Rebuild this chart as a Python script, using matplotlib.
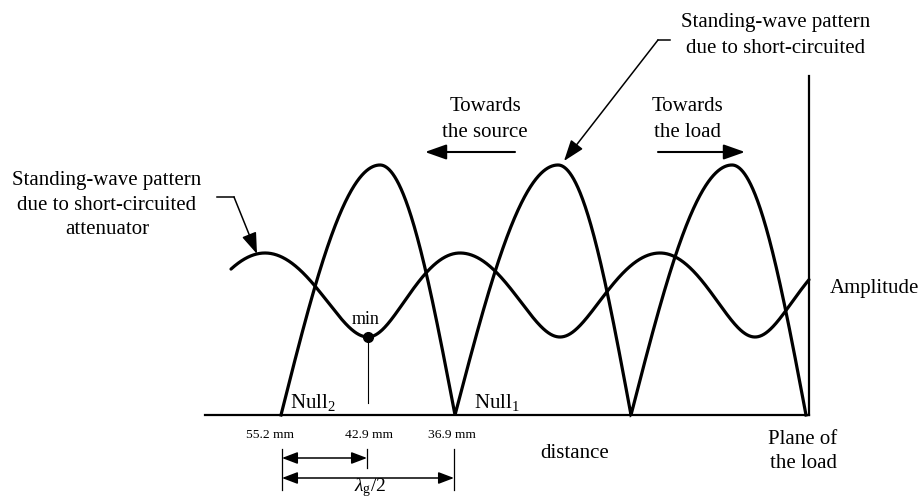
import numpy as np
import matplotlib
matplotlib.use("Agg")
import matplotlib.pyplot as plt

# Positions along the line (drawing units, baseline at amplitude 0)
null_x = [281, 455, 631, 806]          # nulls of the short-circuit pattern
peak_x = [380, 558, 732]               # maxima of the short-circuit pattern
peak_amp = 250                         # maximum amplitude, short circuit

att_ext_x = [265, 368, 460, 560, 660, 755]   # max/min positions, attenuator pattern
att_max = 162
att_min = 78
att_span = [231, 809]

min_x = 368
mm_x = [270, 369, 452]
mm_labels = ["55.2 mm", "42.9 mm", "36.9 mm"]
dim_x = [282, 367, 454]

plt.rcParams["font.family"] = ["Liberation Serif", "DejaVu Serif"]
plt.rcParams["mathtext.fontset"] = "custom"
plt.rcParams["mathtext.rm"] = "Liberation Serif"
plt.rcParams["mathtext.it"] = "Liberation Serif:italic"

W, H = 922, 499
BASE = 415  # baseline row measured from the top


def Y(row):
    return BASE - row


fig = plt.figure(figsize=(W / 100, H / 100), dpi=100)
ax = fig.add_axes([0, 0, 1, 1])
ax.set_xlim(0, W)
ax.set_ylim(BASE - H, BASE)
ax.axis("off")

# Short-circuit pattern: |sin| arches between nulls
nodes = []
for i, n in enumerate(null_x):
    nodes.append(n)
    if i < len(peak_x):
        nodes.append(peak_x[i])
phases = np.arange(len(nodes)) * np.pi / 2
xs = np.linspace(null_x[0], null_x[-1], 3000)
ph = np.interp(xs, nodes, phases)
ys = peak_amp * np.abs(np.sin(ph))
ax.plot(xs, ys, color="black", lw=2.3, solid_joinstyle="miter", zorder=3)

# Attenuator pattern: |1 + G e^{j theta}| with theta = 0 at maxima, pi at minima
G = (att_max - att_min) / (att_max + att_min)
ext = np.array(att_ext_x, dtype=float)
ph_ext = np.arange(len(ext)) * np.pi
x0 = att_span[0]
x1 = att_span[1]
p0 = ph_ext[0] - np.pi * (ext[0] - x0) / (ext[1] - ext[0])
p1 = ph_ext[-1] + np.pi * (x1 - ext[-1]) / (ext[-1] - ext[-2])
xa = np.linspace(x0, x1, 2000)
pa = np.interp(xa, np.r_[x0, ext, x1], np.r_[p0, ph_ext, p1])
ya = att_max * np.abs(1 + G * np.exp(1j * pa)) / (1 + G)
ax.plot(xa, ya, color="black", lw=2.3, solid_capstyle="round", zorder=3)

# Axes of the sketch
ax.plot([205, 809], [0, 0], color="black", lw=1.6, zorder=2)
ax.plot([809, 809], [0, Y(76)], color="black", lw=1.6, zorder=2)

# Minimum marker
ymin_att = att_max * np.abs(1 + G * np.exp(1j * np.interp(min_x, ext, ph_ext))) / (1 + G)
ax.plot([min_x], [ymin_att], "o", color="black", ms=7, zorder=4)
ax.plot([min_x, min_x], [ymin_att, Y(403)], color="black", lw=0.8, zorder=2)
ax.text(min_x - 2, Y(324), "min", fontsize=13, ha="center", va="baseline")

# Null labels
ax.text(290, Y(408), "Null$_2$", fontsize=15, ha="left", va="baseline")
ax.text(474, Y(408), "Null$_1$", fontsize=15, ha="left", va="baseline")

# Distance labels
for x, lab in zip(mm_x, mm_labels):
    ax.text(x, Y(438), lab, fontsize=9.7, ha="center", va="baseline")

# Dimension lines
ax.plot([dim_x[0]] * 2, [Y(449), Y(490)], color="black", lw=0.9)
ax.plot([dim_x[1]] * 2, [Y(449), Y(468)], color="black", lw=0.9)
ax.plot([dim_x[2]] * 2, [Y(449), Y(490)], color="black", lw=0.9)
dim_style = "<|-|>,head_length=0.63,head_width=0.24"
ax.annotate("", xy=(dim_x[1], Y(458)), xytext=(dim_x[0], Y(458)),
            arrowprops=dict(arrowstyle=dim_style, color="black", lw=1.1,
                            mutation_scale=15, shrinkA=0, shrinkB=0))
ax.annotate("", xy=(dim_x[2], Y(478)), xytext=(dim_x[0], Y(478)),
            arrowprops=dict(arrowstyle=dim_style, color="black", lw=1.1,
                            mutation_scale=15, shrinkA=0, shrinkB=0))
ax.text(370, Y(491), r"$\lambda_{\mathrm{g}}/2$", fontsize=14, ha="center", va="baseline")

# Axis captions
ax.text(575, Y(458), "distance", fontsize=15, ha="center", va="baseline")
ax.text(830, Y(293), "Amplitude", fontsize=15, ha="left", va="baseline")
ax.text(803, Y(444), "Plane of", fontsize=15, ha="center", va="baseline")
ax.text(803, Y(468), "the load", fontsize=15, ha="center", va="baseline")

# Direction arrows
dir_style = "-|>,head_length=0.65,head_width=0.23"
ax.text(485, Y(111), "Towards", fontsize=15, ha="center", va="baseline")
ax.text(485, Y(137), "the source", fontsize=15, ha="center", va="baseline")
ax.annotate("", xy=(425, Y(152)), xytext=(515, Y(152)),
            arrowprops=dict(arrowstyle=dir_style, color="black", lw=1.5,
                            mutation_scale=20, shrinkA=0, shrinkB=0))
ax.text(687, Y(111), "Towards", fontsize=15, ha="center", va="baseline")
ax.text(687, Y(137), "the load", fontsize=15, ha="center", va="baseline")
ax.annotate("", xy=(745, Y(152)), xytext=(658, Y(152)),
            arrowprops=dict(arrowstyle=dir_style, color="black", lw=1.5,
                            mutation_scale=20, shrinkA=0, shrinkB=0))

# Callout for the short-circuit pattern
ax.text(776, Y(27), "Standing-wave pattern", fontsize=15, ha="center", va="baseline")
ax.text(776, Y(53), "due to short-circuited", fontsize=15, ha="center", va="baseline")
ax.plot([670, 658], [Y(40), Y(40)], color="black", lw=1.1)
ax.annotate("", xy=(564, Y(161)), xytext=(658, Y(40)),
            arrowprops=dict(arrowstyle=dir_style, color="black", lw=1.1,
                            mutation_scale=20, shrinkA=0, shrinkB=0))

# Callout for the attenuator pattern
ax.text(107, Y(185), "Standing-wave pattern", fontsize=15, ha="center", va="baseline")
ax.text(107, Y(210), "due to short-circuited", fontsize=15, ha="center", va="baseline")
ax.text(107, Y(234), "attenuator", fontsize=15, ha="center", va="baseline")
ax.plot([217, 234], [Y(197), Y(197)], color="black", lw=1.1)
ax.annotate("", xy=(257, Y(254)), xytext=(234, Y(197)),
            arrowprops=dict(arrowstyle=dir_style, color="black", lw=1.1,
                            mutation_scale=20, shrinkA=0, shrinkB=0))

fig.savefig("out.png", dpi=100, facecolor="white")
